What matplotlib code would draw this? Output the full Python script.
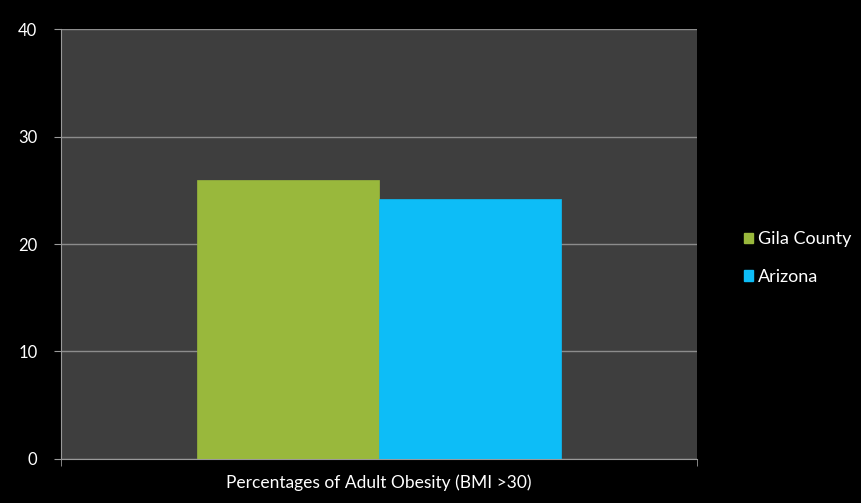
import matplotlib.pyplot as plt
from matplotlib.patches import Patch

plt.rcParams['font.family'] = ['Lato', 'DejaVu Sans']

category = "Percentages of Adult Obesity (BMI >30)"
series = ["Gila County", "Arizona"]
values = [26.0, 24.2]
colors = ["#99b83c", "#0dbdf7"]
yticks = [0, 10, 20, 30, 40]

fig = plt.figure(figsize=(8.61, 5.03), dpi=100, facecolor="black")
ax = fig.add_axes([0.0708, 0.0875, 0.7387, 0.8548])
ax.set_facecolor("#3e3e3e")

width = 0.286
offsets = [-width / 2, width / 2]
for name, val, col, off in zip(series, values, colors, offsets):
    ax.bar(off, val, width=width, color=col, edgecolor=col, linewidth=0.5, label=name, zorder=3)

ax.set_xlim(-0.5, 0.5)
ax.set_ylim(0, 40)
ax.set_yticks(yticks)
ax.set_yticklabels([str(t) for t in yticks], color="white", fontsize=12)
ax.set_xticks([0])
ax.set_xticklabels([category], color="white", fontsize=12.5)
ax.tick_params(axis="x", length=0, pad=11)
ax.set_xticks([-0.5, 0.5], minor=True)
ax.tick_params(axis="x", which="minor", length=5, color="#9a9a9a")
ax.tick_params(axis="y", length=5, color="#9a9a9a", pad=12)

ax.yaxis.grid(True, color="#8c8c8c", linewidth=1, zorder=1)
for s in ["top", "right"]:
    ax.spines[s].set_visible(False)
ax.spines["left"].set_color("#9a9a9a")
ax.spines["bottom"].set_color("#9a9a9a")

handles = [Patch(facecolor=c, edgecolor=c) for c in colors]
leg = fig.legend(handles, series, loc="center left", bbox_to_anchor=(0.845, 0.487),
                 frameon=False, fontsize=13, handlelength=0.5, handleheight=0.5,
                 handletextpad=0.3, labelspacing=1.2)
for t in leg.get_texts():
    t.set_color("white")

fig.savefig("out.png", dpi=100, facecolor="black")
